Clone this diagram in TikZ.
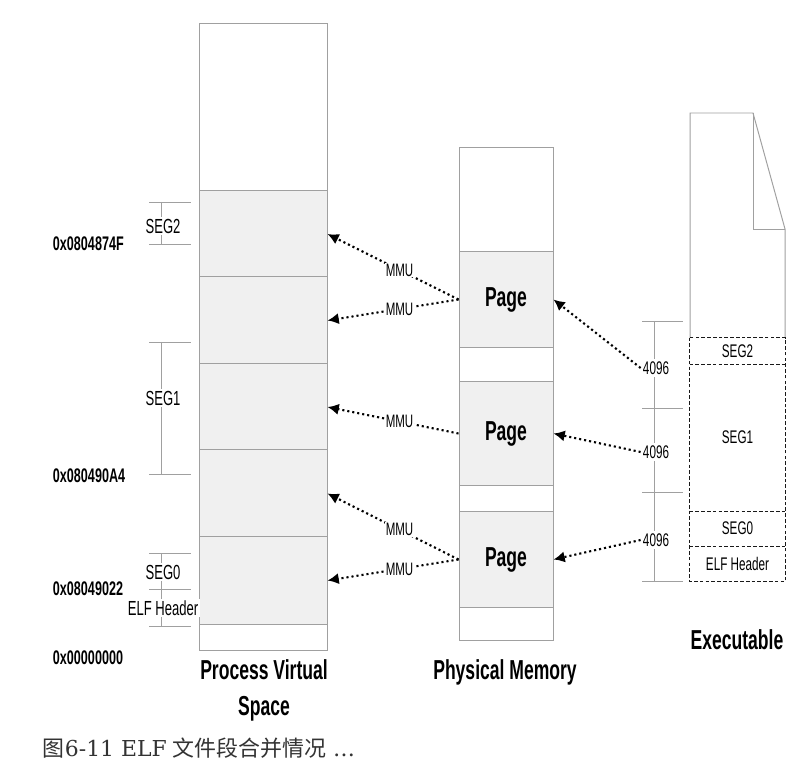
\documentclass[tikz,border=0pt]{standalone}
\usepackage{fontspec}
\setmainfont{Liberation Sans}[FakeStretch=0.64]
\newfontfamily\capser{DejaVu Serif}
\newfontfamily\cjk{Noto Sans CJK SC}
\usetikzlibrary{arrows.meta}
\definecolor{linegray}{HTML}{A0A0A0}
\definecolor{cellgray}{HTML}{F0F0F0}
\definecolor{capgray}{HTML}{333333}

\begin{document}
\begin{tikzpicture}[x=0.025cm, y=-0.025cm,
        cell/.style={draw=linegray, line width=0.7pt, inner sep=0pt},
        vscell/.style={cell, minimum width=3.175cm},
        pmcell/.style={cell, minimum width=2.35cm},
        execell/.style={inner sep=0pt, minimum width=2.375cm, font=\fontsize{13}{15}\selectfont},
        exedash/.style={draw=black!90, line width=1pt, dash pattern=on 2.6pt off 1.5pt},
        pagetxt/.style={font=\fontsize{19.5}{23}\selectfont\bfseries},
        title/.style={font=\fontsize{19.5}{25.5}\selectfont\bfseries, align=center},
        addr/.style={anchor=west, font=\fontsize{14}{16}\selectfont\bfseries},
        seglabel/.style={fill=white, inner sep=1pt, font=\fontsize{14.5}{17}\selectfont},
        sizelabel/.style={fill=white, inner sep=1.5pt, font=\fontsize{13}{15}\selectfont},
        tick/.style={draw=linegray, line width=0.7pt},
        maparrow/.style={-{Latex[length=8pt,width=8pt]}, line width=1.5pt,
                         dash pattern=on 1.5pt off 2.1pt},
        mmu/.style={pos=0.45, fill=white, inner sep=0.8pt, font=\fontsize{12.8}{15}\selectfont}]
    \useasboundingbox (0,0) rectangle (808,766);
    % Process virtual space
    \node[vscell, minimum height=4.175cm] (vs0) at (263.5,107.5) {};
    \node[vscell, fill=cellgray, minimum height=2.15cm] (vs1) at (263.5,234) {};
    \node[vscell, fill=cellgray, minimum height=2.175cm] (vs2) at (263.5,320.5) {};
    \node[vscell, fill=cellgray, minimum height=2.15cm] (vs3) at (263.5,407) {};
    \node[vscell, fill=cellgray, minimum height=2.175cm] (vs4) at (263.5,493.5) {};
    \node[vscell, fill=cellgray, minimum height=2.175cm] (vs5) at (263.5,580.5) {};
    \node[vscell, minimum height=0.65cm] (vs6) at (263.5,637) {};
    \node[title] (vstitle) at (264,690) {Process Virtual\\Space};
    % Segment marks beside the virtual space
    \draw[tick] (149,202) -- (191,202) (149,244) -- (191,244) (161,202) -- (161,244);
    \draw[tick] (149,342) -- (191,342) (149,474) -- (191,474) (161,342) -- (161,474);
    \draw[tick] (149,553) -- (191,553) (149,589) -- (191,589) (149,626) -- (191,626) (161,553) -- (161,626);
    \node[seglabel] (seg2l) at (163,226) {SEG2};
    \node[seglabel] (seg1l) at (163,398) {SEG1};
    \node[seglabel] (seg0l) at (163,572) {SEG0};
    \node[seglabel] (elfl) at (163,608) {ELF Header};
    % Addresses
    \node[addr] (a3) at (48,244) {0x0804874F};
    \node[addr] (a2) at (48,476) {0x080490A4};
    \node[addr] (a1) at (48,589) {0x08049022};
    \node[addr] (a0) at (48,658) {0x00000000};
    % Physical memory
    \node[pmcell, minimum height=2.6cm] (pm0) at (506,200) {};
    \node[pmcell, fill=cellgray, minimum height=2.375cm, pagetxt] (pg1) at (506,299.5) {Page};
    \node[pmcell, minimum height=0.875cm] (pm1) at (506,364.5) {};
    \node[pmcell, fill=cellgray, minimum height=2.575cm, pagetxt] (pg2) at (506,433.5) {Page};
    \node[pmcell, minimum height=0.675cm] (pm2) at (506,498.5) {};
    \node[pmcell, fill=cellgray, minimum height=2.375cm, pagetxt] (pg3) at (506,559.5) {Page};
    \node[pmcell, minimum height=0.825cm] (pm3) at (506,623.5) {};
    \node[title] (pmtitle) at (505,672) {Physical Memory};
    % Executable file
    \draw[draw=linegray, line width=0.7pt] (690,338) -- (690,113) -- (753,113) -- (785,229) -- (785,338);
    \draw[draw=linegray, line width=0.7pt] (753,113) -- (753,229) -- (785,229);
    \node[execell, minimum height=0.65cm] (ex2) at (737.5,351) {SEG2};
    \node[execell, minimum height=3.675cm] (ex1) at (737.5,437.5) {SEG1};
    \node[execell, minimum height=0.875cm] (ex0) at (737.5,528.5) {SEG0};
    \node[execell, minimum height=0.875cm] (exh) at (737.5,563.5) {ELF Header};
    \draw[exedash] (ex2.north west) rectangle (exh.south east);
    \draw[exedash] (ex2.south west) -- (ex2.south east) (ex1.south west) -- (ex1.south east)
        (ex0.south west) -- (ex0.south east);
    \node[title] (extitle) at (737,640) {Executable};
    % Page size marks
    \draw[tick] (642,321) -- (683,321) (642,408) -- (683,408) (642,492) -- (683,492) (642,581) -- (683,581);
    \draw[tick] (654,321) -- (654,581);
    \node[sizelabel] (sz1) at (656,368) {4096};
    \node[sizelabel] (sz2) at (656,452) {4096};
    \node[sizelabel] (sz3) at (656,540) {4096};
    % File pages loaded into memory
    \draw[maparrow] (sz1.west) -- (pg1.east);
    \draw[maparrow] (sz2.west) -- (pg2.east);
    \draw[maparrow] (sz3.west) -- (pg3.east);
    % Pages mapped into the virtual space
    \draw[maparrow] (pg1.west) -- (vs1.east) node[mmu] {MMU};
    \draw[maparrow] (pg1.west) -- (vs2.east) node[mmu] {MMU};
    \draw[maparrow] (pg2.west) -- (vs3.east) node[mmu] {MMU};
    \draw[maparrow] (pg3.west) -- (vs4.east) node[mmu] {MMU};
    \draw[maparrow] (pg3.west) -- (vs5.east) node[mmu] {MMU};
    % Caption
    \node[anchor=west, text=capgray, font=\fontsize{15.6}{18}\selectfont] (cap) at (38,748)
        {{\cjk 图}{\capser 6-11 ELF}\hspace{4pt}{\cjk 文件段合并情况}{\capser\ …}};
\end{tikzpicture}
\end{document}
